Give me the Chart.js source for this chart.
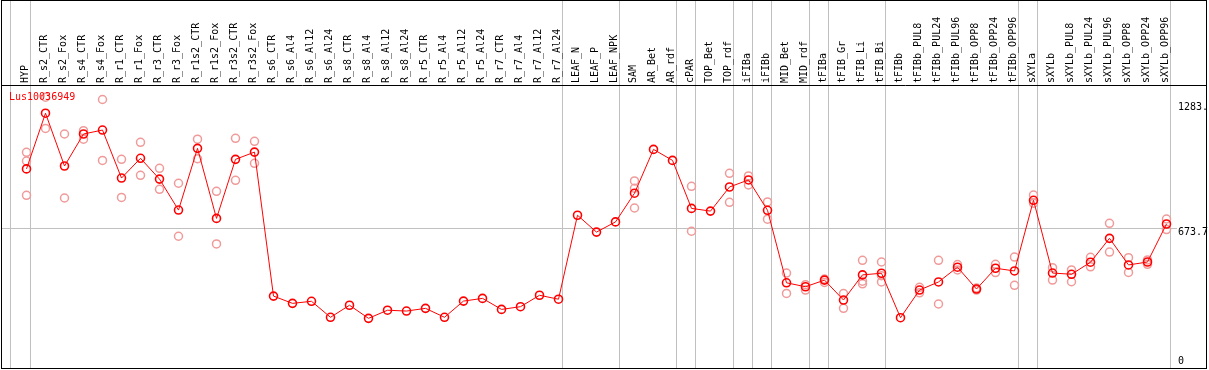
<!DOCTYPE html>
<html>
<head>
<meta charset="utf-8">
<script src="https://cdn.jsdelivr.net/npm/chart.js@4.4.0/dist/chart.umd.min.js"></script>
<style>
  html, body { margin: 0; padding: 0; background: #ffffff; }
  #c { display: block; }
</style>
</head>
<body>
<canvas id="c" width="1209" height="370"></canvas>
<script>
const geneName = "Lus10036949";

const categories = [
  "HYP","R_s2_CTR","R_s2_Fox","R_s4_CTR","R_s4_Fox","R_r1_CTR","R_r1_Fox","R_r3_CTR","R_r3_Fox",
  "R_r1s2_CTR","R_r1s2_Fox","R_r3s2_CTR","R_r3s2_Fox","R_s6_CTR","R_s6_Al4","R_s6_Al12","R_s6_Al24",
  "R_s8_CTR","R_s8_Al4","R_s8_Al12","R_s8_Al24","R_r5_CTR","R_r5_Al4","R_r5_Al12","R_r5_Al24",
  "R_r7_CTR","R_r7_Al4","R_r7_Al12","R_r7_Al24","LEAF_N","LEAF_P","LEAF_NPK","SAM","AR_Bet","AR_rdf",
  "cPAR","TOP_Bet","TOP_rdf","iFIBa","iFIBb","MID_Bet","MID_rdf","tFIBa","tFIB_Gr","tFIB_Li","tFIB_Bi",
  "tFIBb","tFIBb_PUL8","tFIBb_PUL24","tFIBb_PUL96","tFIBb_OPP8","tFIBb_OPP24","tFIBb_OPP96",
  "sXYLa","sXYLb","sXYLb_PUL8","sXYLb_PUL24","sXYLb_PUL96","sXYLb_OPP8","sXYLb_OPP24","sXYLb_OPP96"
];

// mean expression per sample
const meanValues = [
  958,1226,972,1126,1145,914,1009,909,760,
  1057,720,1004,1039,346,311,321,244,
  302,239,278,274,287,244,322,335,
  282,295,350,331,735,654,703,841,1052,999,
  768,755,871,905,759,410,391,423,327,448,456,
  242,375,414,485,380,480,467,
  807,457,451,509,624,496,510,693
];

// individual replicates (null = none shown)
const replicate1 = [
  1038,1303,1126,1142,1292,1004,1086,961,889,
  1101,850,1105,1091,null,null,null,null,
  null,null,null,null,null,null,null,null,
  null,null,null,null,null,null,null,900,null,null,
  874,null,937,924,799,457,401,428,358,518,510,
  null,388,518,472,385,499,534,
  832,483,472,533,696,531,520,717
];
const replicate2 = [
  996,1153,818,1101,999,821,927,860,634,
  1007,597,903,985,null,null,null,null,
  null,null,null,null,null,null,null,null,
  null,null,null,null,null,null,null,865,null,null,
  658,null,797,881,716,359,375,412,287,418,444,
  null,362,308,498,375,459,398,
  793,423,415,487,558,460,499,666
];
const replicate3 = [
  831,null,null,null,null,null,null,null,null,
  null,null,null,null,null,null,null,null,
  null,null,null,null,null,null,null,null,
  null,null,null,null,null,null,null,770,null,null,
  null,null,null,null,null,null,null,null,null,405,414,
  null,null,null,null,null,null,null,
  null,null,null,null,null,null,null,null
];

const axisTickValues = [0, 673.7, 1283];
const axisTickLabels = ["0", "673.7", "1283."];
const gridValue = 673.7;
const yMax = 1357;

// group separators drawn after these sample indices (-1 = before first)
const separatorAfter = [-1, 0, 28, 31, 34, 35, 37, 38, 39, 41, 42, 45, 52, 53, 60];

const FONT = '10px "DejaVu Sans Mono", "Liberation Mono", monospace';

const decorPlugin = {
  id: 'decor',
  beforeDraw(chart) {
    const ctx = chart.ctx;
    const x = chart.scales.x, y = chart.scales.y;
    const step = x.getPixelForValue(1) - x.getPixelForValue(0);
    ctx.save();
    ctx.strokeStyle = '#c0c0c0';
    ctx.lineWidth = 1;
    separatorAfter.forEach(i => {
      const px = i < 0 ? x.getPixelForValue(0) - step + 3 : x.getPixelForValue(i) + 4;
      const xx = Math.floor(px) + 0.5;
      ctx.beginPath();
      ctx.moveTo(xx, 0);
      ctx.lineTo(xx, 369);
      ctx.stroke();
    });
    const gy = Math.round(y.getPixelForValue(gridValue)) + 0.5;
    ctx.beginPath();
    ctx.moveTo(1, gy);
    ctx.lineTo(chart.chartArea.right + 1, gy);
    ctx.stroke();
    ctx.restore();
  },
  afterDraw(chart) {
    const ctx = chart.ctx;
    const y = chart.scales.y;
    ctx.save();
    ctx.strokeStyle = '#000000';
    ctx.lineWidth = 1;
    ctx.strokeRect(1.5, 0.5, 1205, 368);
    ctx.beginPath();
    ctx.moveTo(1, 85.5);
    ctx.lineTo(1207, 85.5);
    ctx.stroke();

    ctx.font = FONT;
    ctx.textBaseline = 'middle';
    ctx.textAlign = 'left';
    ctx.fillStyle = '#ff0000';
    ctx.fillText(geneName, 9, 97);

    ctx.fillStyle = '#000000';
    axisTickValues.forEach((v, i) => {
      let py = y.getPixelForValue(v);
      if (v === 0) py -= 7; else if (i === 2) py += 6; else py += 4;
      ctx.fillText(axisTickLabels[i], 1178, py);
    });
    ctx.restore();
  }
};

const repStyle = {
  showLine: false,
  borderColor: '#f09a9a',
  pointBorderColor: '#f09a9a',
  pointBackgroundColor: 'rgba(0,0,0,0)',
  pointRadius: 4,
  pointBorderWidth: 1.5,
  pointHoverRadius: 4
};

new Chart(document.getElementById('c'), {
  type: 'line',
  data: {
    labels: categories,
    datasets: [
      {
        data: meanValues,
        borderColor: '#ff0000',
        borderWidth: 1,
        tension: 0,
        pointRadius: 4,
        pointBorderWidth: 1.6,
        pointBorderColor: '#ff0000',
        pointBackgroundColor: 'rgba(0,0,0,0)',
        pointHoverRadius: 4,
        fill: false
      },
      Object.assign({ data: replicate1 }, repStyle),
      Object.assign({ data: replicate2 }, repStyle),
      Object.assign({ data: replicate3 }, repStyle)
    ]
  },
  options: {
    responsive: false,
    animation: false,
    devicePixelRatio: 1,
    spanGaps: false,
    layout: { autoPadding: false, padding: { left: 17, right: 33, top: 0, bottom: 2 } },
    plugins: { legend: { display: false }, tooltip: { enabled: false }, title: { display: false } },
    scales: {
      x: {
        type: 'category',
        position: 'top',
        offset: true,
        grid: { display: false, drawTicks: false, tickLength: 0 },
        border: { display: false },
        ticks: {
          autoSkip: false,
          maxRotation: 90,
          minRotation: 90,
          padding: 3,
          labelOffset: 11,
          color: '#000000',
          font: { family: '"DejaVu Sans Mono", "Liberation Mono", monospace', size: 10 }
        },
        afterFit(scale) { scale.height = 86; }
      },
      y: {
        display: false,
        min: 0,
        max: yMax
      }
    }
  },
  plugins: [decorPlugin]
});
</script>
</body>
</html>
